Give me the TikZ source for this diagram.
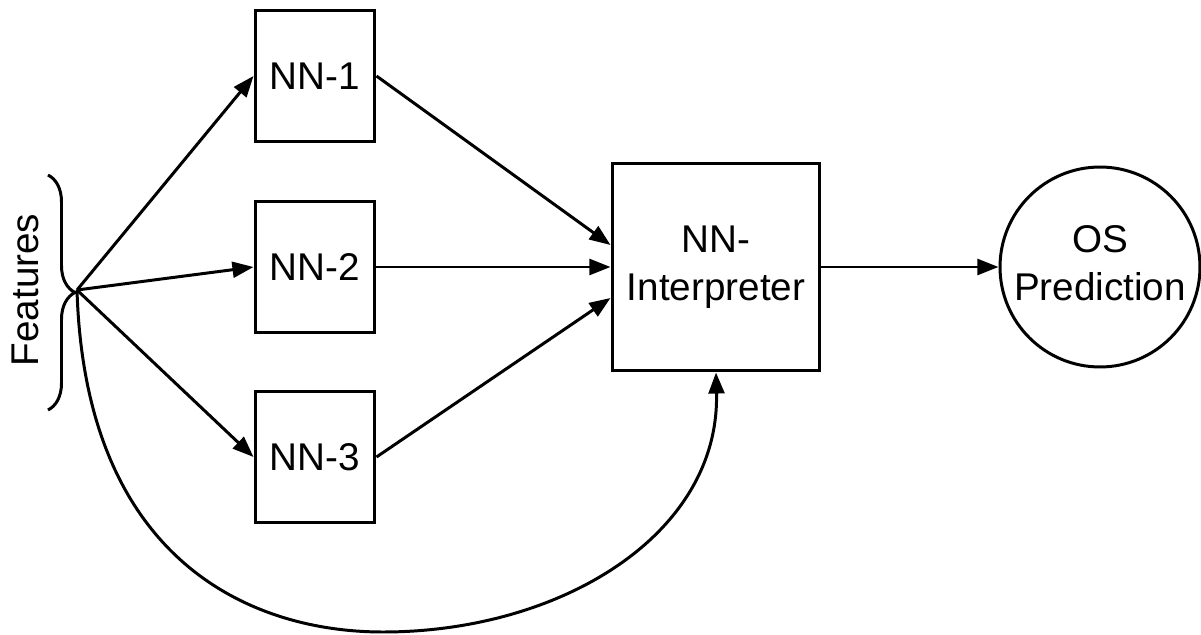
\documentclass[tikz,border=0pt]{standalone}
\usepackage{fontspec}
\setmainfont{Liberation Sans}
\usetikzlibrary{arrows.meta,decorations.pathreplacing}

\begin{document}
\begin{tikzpicture}[x=0.02cm, y=-0.02cm,
    font=\fontsize{22}{27}\selectfont,
    line width=1.7pt,
    tip/.style={-{Triangle[length=12pt,width=9pt]}},
    netbox/.style={draw, minimum width=2.4cm, minimum height=2.64cm, inner sep=0pt}]
      \useasboundingbox (0, 0) rectangle (1201, 635);

      % input side: features brace
      \draw[decorate, decoration={brace, amplitude=0.54cm}] (48, 175) to (48, 410);
      \coordinate (feat) at (77, 290);
      \node[rotate=90] (featlabel) at (25, 290){Features};

      % the three networks
      \node[netbox] (nn1) at (315, 76){NN-1};
      \node[netbox] (nn2) at (315, 267){NN-2};
      \node[netbox] (nn3) at (315, 457){NN-3};

      \node[draw, minimum width=4.16cm, minimum height=4.16cm, align=center] (interp) at (716, 267){NN-\\Interpreter\vphantom{y}};
      \node[draw, circle, minimum size=4cm, inner sep=0pt, align=center] (pred) at (1100, 267){OS\\Prediction\vphantom{y}};

      \draw[tip] (feat) to (nn1.west);
      \draw[tip] (feat) to (nn2.west);
      \draw[tip] (feat) to (nn3.west);

      \draw[tip] (nn1.east) to ([yshift=0.44cm]interp.west);
      \draw[tip] (nn2.east) to (interp.west);
      \draw[tip] (nn3.east) to ([yshift=-0.62cm]interp.west);

      \draw[tip] (interp.east) to (pred.west);
      % skip connection under NN-3
      \draw[tip] (feat) .. controls (85, 560) and (250, 632) .. (383, 632)
        .. controls (560, 632) and (720, 535) .. (interp.south);
    \end{tikzpicture}
\end{document}
